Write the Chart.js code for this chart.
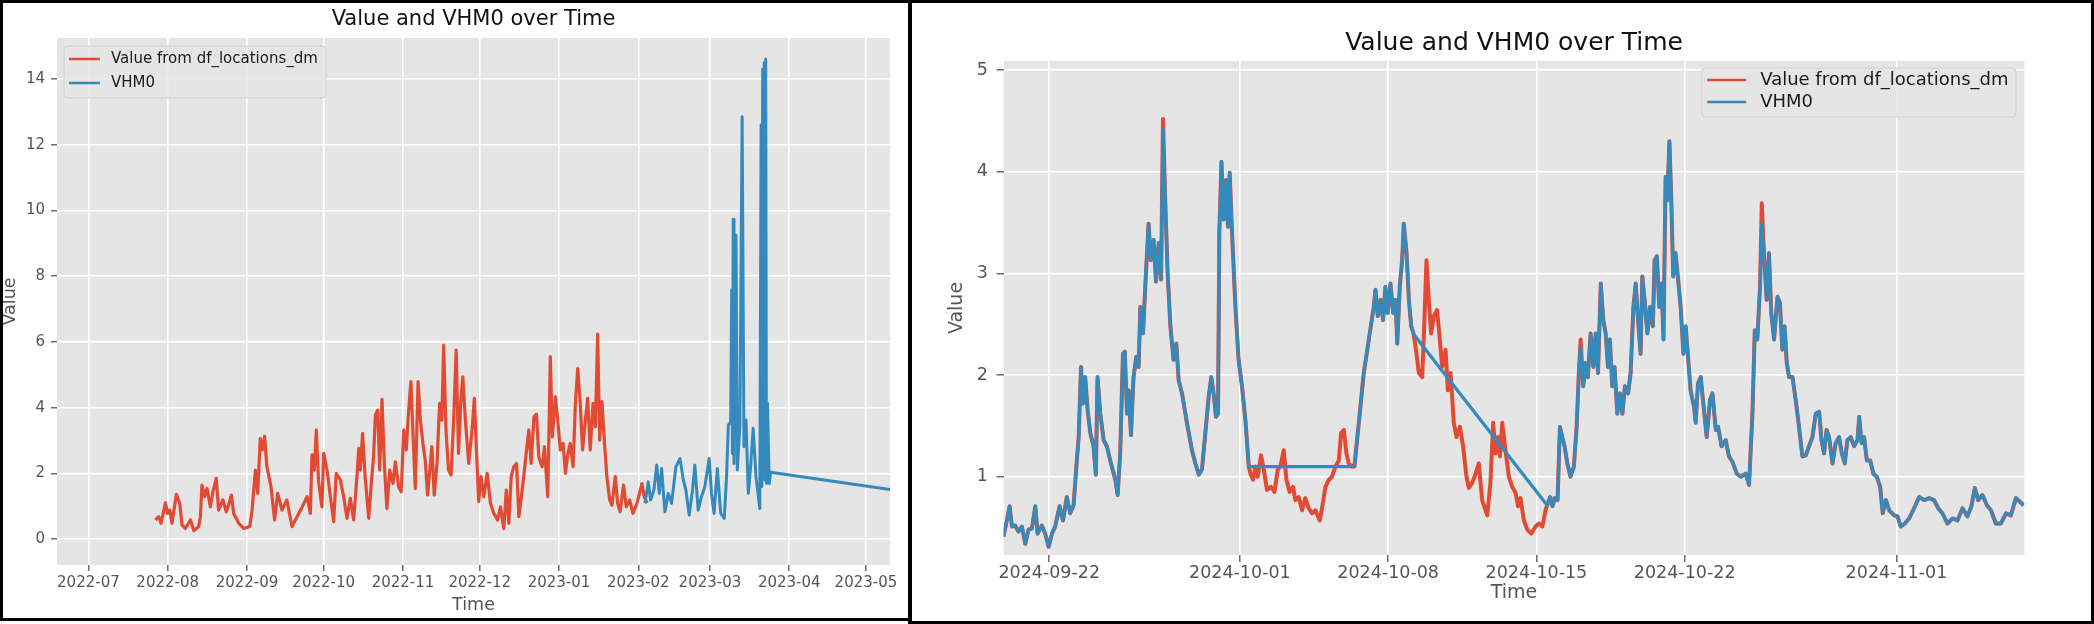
<!DOCTYPE html>
<html><head><meta charset="utf-8">
<script src="https://cdn.jsdelivr.net/npm/chart.js@4.4.1/dist/chart.umd.min.js"></script>
<style>
html,body{margin:0;padding:0;background:#fff;width:2094px;height:624px;overflow:hidden;}
#left{position:absolute;left:0;top:0;width:909px;height:620px;}
#right{position:absolute;left:911px;top:0;width:1183px;height:624px;}
.frame{position:absolute;border:3px solid #000;box-sizing:border-box;pointer-events:none;}
</style></head>
<body>
<div id="left"><canvas id="c1"></canvas></div>
<div id="right"><canvas id="c2"></canvas></div>
<div class="frame" style="left:0;top:0;width:912px;height:621px;"></div>
<div class="frame" style="left:908px;top:0;width:1186px;height:624px;"></div>
<script>
// ---------------- DATA ----------------
const chartTitle = 'Value and VHM0 over Time';
const seriesNames = ['Value from df_locations_dm', 'VHM0'];

// Left chart: x = days since leftEpoch
const leftEpoch = '2022-07-01';
const leftXTickLabels = ['2022-07','2022-08','2022-09','2022-10','2022-11','2022-12','2023-01','2023-02','2023-03','2023-04','2023-05'];
const leftYTicks = [0,2,4,6,8,10,12,14];
const leftValueSeries = [
[26.2,0.58],[27.5,0.68],[28.4,0.48],[30.1,1.1],[31.0,0.78],[31.8,0.88],[32.7,0.48],[34.4,1.36],[35.7,1.09],[36.6,0.43],
[37.9,0.32],[39.9,0.58],[41.2,0.25],[43.1,0.38],[43.8,0.68],[44.4,1.64],[45.5,1.29],[46.4,1.54],[47.7,0.98],[48.7,1.44],
[50.0,1.85],[50.9,0.88],[52.6,1.19],[53.9,0.83],[54.8,1.03],[55.9,1.34],[56.8,0.78],[58.8,0.48],[60.7,0.32],[63.1,0.38],
[64.0,0.88],[65.3,2.1],[66.2,1.39],[67.2,3.06],[68.0,2.71],[68.9,3.13],[69.8,2.2],[71.4,1.59],[72.8,0.58],[74.0,1.39],
[75.7,0.88],[77.6,1.19],[79.6,0.38],[81.6,0.68],[83.6,0.98],[85.5,1.29],[86.8,0.78],[87.4,2.56],[88.3,2.1],[89.1,3.32],
[90.0,1.74],[91.3,0.98],[92.0,2.61],[93.5,2.0],[94.6,1.29],[95.9,0.53],[96.9,2.0],[98.5,1.8],[99.8,1.29],[101.1,0.63],
[102.4,1.24],[103.7,0.58],[105.0,1.9],[105.7,2.76],[106.3,2.1],[107.2,3.22],[108.2,1.9],[109.6,0.63],[110.6,1.69],[111.5,2.5],
[112.2,3.77],[113.1,3.92],[113.9,2.1],[114.8,4.25],[115.7,2.3],[116.7,0.93],[117.8,2.1],[119.1,1.69],[120.0,2.35],[121.3,1.59],
[122.3,1.44],[123.3,3.32],[124.3,2.71],[125.2,3.92],[126.1,4.79],[126.9,3.22],[127.8,1.54],[128.9,4.79],[129.8,3.62],[130.8,2.91],
[131.7,2.4],[132.6,1.34],[133.6,2.2],[134.3,2.81],[135.2,1.34],[136.3,2.3],[137.3,4.13],[138.2,3.62],[138.9,5.9],[139.8,3.32],
[140.8,2.1],[141.8,1.95],[142.8,3.62],[143.8,5.75],[144.7,2.61],[145.7,4.33],[146.4,4.94],[147.4,3.62],[148.7,2.3],[150.0,3.32],
[150.9,4.28],[151.7,2.71],[152.6,1.14],[153.5,1.9],[154.6,1.29],[155.9,2.0],[157.2,1.09],[158.5,0.78],[160.0,0.58],[161.1,0.98],
[162.4,0.32],[163.4,1.49],[164.4,0.48],[165.3,1.9],[166.3,2.2],[167.4,2.3],[168.3,0.68],[169.3,1.29],[170.2,1.9],[171.3,2.71],
[172.2,3.32],[173.1,2.3],[174.2,3.72],[175.2,3.8],[176.1,2.5],[177.4,2.2],[178.3,2.81],[179.6,1.29],[180.6,5.55],[181.4,3.11],
[182.6,4.33],[183.5,3.62],[184.5,2.71],[185.6,2.91],[186.5,2.0],[187.5,2.61],[188.4,2.91],[189.5,2.2],[190.4,4.13],[191.3,5.19],
[192.3,4.13],[193.2,2.71],[194.3,3.62],[195.2,4.28],[196.2,2.71],[197.3,4.13],[198.2,3.42],[199.1,6.24],[199.9,3.01],[200.8,4.18],
[201.7,3.01],[202.7,1.9],[203.8,1.19],[204.7,1.03],[206.0,1.9],[206.9,1.09],[207.9,0.83],[209.2,1.64],[210.3,0.98],[211.6,1.19],
[212.9,0.78],[214.5,1.09],[216.4,1.69],[217.3,1.29],[218.4,1.09]
];
const leftVhm0Series = [
[217.6,1.09],[218.9,1.74],[219.8,1.19],[221.1,1.49],[222.2,2.25],[223.2,1.39],[224.1,2.15],[225.4,0.83],[226.7,1.39],[228.0,1.09],
[229.7,2.2],[231.3,2.45],[232.6,1.8],[233.6,1.49],[234.9,0.73],[236.2,1.49],[237.1,2.25],[238.4,0.88],[239.7,1.29],[241.0,1.59],
[242.7,2.45],[243.6,1.39],[244.6,0.78],[245.9,2.15],[247.2,0.78],[248.6,0.63],[249.5,1.9],[250.2,3.47],[251.1,3.57],[251.5,7.58],
[251.8,2.6],[252.1,9.73],[252.4,2.3],[252.8,8.9],[253.2,9.25],[253.7,2.1],[254.7,3.42],[255.6,12.85],[256.3,2.81],[257.1,3.62],
[258.0,1.39],[258.9,2.2],[259.9,3.37],[261.0,1.9],[262.5,0.93],[263.0,12.6],[263.3,1.6],[263.6,14.3],[263.9,2.0],[264.2,14.5],
[264.5,1.8],[264.8,14.6],[265.1,1.69],[265.5,4.13],[266.2,1.69],[266.7,2.03],[313.4,1.51]
];

// Right chart: x = days since rightEpoch
const rightEpoch = '2024-09-22';
const rightXTickLabels = ['2024-09-22','2024-10-01','2024-10-08','2024-10-15','2024-10-22','2024-11-01'];
const rightYTicks = [1,2,3,4,5];
// stretches where both series coincide
const rightSharedA = [
[-2.16,0.41],[-2.0,0.57],[-1.87,0.71],[-1.76,0.51],[-1.61,0.52],[-1.45,0.46],[-1.29,0.51],[-1.13,0.34],[-0.98,0.48],[-0.82,0.49],
[-0.66,0.71],[-0.55,0.44],[-0.35,0.52],[-0.19,0.44],[-0.03,0.31],[0.13,0.44],[0.28,0.51],[0.49,0.71],[0.65,0.57],[0.83,0.80],
[0.99,0.64],[1.15,0.72],[1.28,1.10],[1.39,1.39],[1.50,2.08],[1.59,1.72],[1.70,1.98],[1.81,1.66],[1.94,1.43],[2.09,1.30],
[2.20,1.02],[2.28,1.98],[2.41,1.62],[2.57,1.36],[2.72,1.30],[2.88,1.16],[3.12,0.97],[3.23,0.82],[3.35,1.23],[3.48,2.21],
[3.57,2.23],[3.67,1.62],[3.75,1.85],[3.86,1.41],[3.98,1.98],[4.11,2.18],[4.22,2.08],[4.30,2.67],[4.43,2.41],[4.54,2.90],
[4.69,3.49],[4.80,3.13],[4.93,3.33],[5.04,2.92],[5.17,3.30],[5.28,2.94],[5.37,4.42],[5.48,3.69],[5.59,3.00],[5.72,2.48],
[5.87,2.15],[6.00,2.31],[6.11,1.95],[6.27,1.82],[6.50,1.53],[6.74,1.26],[6.90,1.13],[7.06,1.02],[7.21,1.07],[7.37,1.43],
[7.53,1.79],[7.65,1.98],[7.76,1.82],[7.87,1.59],[7.97,1.62],[8.03,3.40],[8.13,4.10],[8.24,3.53],[8.35,3.92],[8.44,3.46],
[8.52,3.99],[8.63,3.40],[8.79,2.67],[8.94,2.15],[9.10,1.89],[9.26,1.56],[9.42,1.10]
];
const rightSharedB = [
[14.41,1.10],[14.85,2.02],[15.32,2.67],[15.40,2.84],[15.51,2.58],[15.64,2.74],[15.76,2.54],[15.87,2.87],[15.98,2.61],[16.11,2.90],
[16.24,2.61],[16.35,2.74],[16.43,2.31],[16.55,2.87],[16.66,3.13],[16.74,3.49],[16.87,3.20],[16.98,2.74],[17.09,2.48],[17.21,2.40]
];
const rightSharedC = [
[23.51,0.72],[23.65,0.80],[23.76,0.71],[23.87,0.79],[24.0,0.77],[24.11,1.49],[24.22,1.39],[24.33,1.30],[24.46,1.13],[24.61,1.00],
[24.77,1.10],[24.90,1.49],[25.01,2.05],[25.09,2.28],[25.21,1.89],[25.32,2.12],[25.43,1.98],[25.56,2.41],[25.69,2.08],[25.80,2.41],
[25.91,2.02],[26.04,2.90],[26.16,2.54],[26.27,2.41],[26.38,2.08],[26.47,2.35],[26.58,1.89],[26.69,2.08],[26.82,1.62],[26.95,1.82],
[27.06,1.62],[27.18,1.89],[27.33,1.82],[27.45,2.02],[27.58,2.67],[27.69,2.90],[27.80,2.54],[27.92,2.21],[28.0,2.97],[28.11,2.74],
[28.24,2.41],[28.36,2.67],[28.50,2.48],[28.58,3.13],[28.69,3.17],[28.80,2.67],[28.91,2.90],[29.00,2.35],[29.10,3.95],[29.18,3.72],
[29.28,4.30],[29.37,3.72],[29.46,2.97],[29.57,3.20],[29.69,2.94],[29.81,2.67],[29.94,2.21],[30.05,2.48],[30.16,2.18],[30.28,1.85],
[30.44,1.69],[30.52,1.53],[30.63,1.92],[30.76,1.98],[30.88,1.72],[31.04,1.39],[31.20,1.76],[31.31,1.82],[31.47,1.46],[31.58,1.49],
[31.74,1.30],[31.94,1.36],[32.09,1.20],[32.25,1.15],[32.46,1.03],[32.65,1.00],[32.88,1.03],[33.04,0.92],[33.20,1.62],[33.31,2.44],
[33.43,2.35],[33.56,2.87],[33.64,3.49],[33.75,3.17],[33.87,2.74],[33.98,3.20],[34.09,2.61],[34.22,2.35],[34.38,2.77],[34.50,2.71],
[34.61,2.25],[34.72,2.48],[34.82,2.12],[34.93,1.98],[35.09,1.98],[35.24,1.76],[35.40,1.49],[35.56,1.20],[35.72,1.21],[35.87,1.30],
[36.03,1.39],[36.19,1.62],[36.35,1.64],[36.46,1.36],[36.58,1.23],[36.70,1.46],[36.82,1.39],[36.98,1.13],[37.13,1.33],[37.29,1.39],
[37.42,1.23],[37.56,1.13],[37.68,1.36],[37.84,1.39],[38.0,1.30],[38.16,1.36],[38.24,1.59],[38.35,1.33],[38.47,1.39],[38.60,1.16],
[38.76,1.16],[38.91,1.03],[39.07,1.00],[39.23,0.90],[39.35,0.64],[39.50,0.77],[39.66,0.67],[39.89,0.62],[40.05,0.61],[40.20,0.51],
[40.39,0.54],[40.60,0.59],[40.83,0.69],[41.07,0.80],[41.31,0.77],[41.54,0.79],[41.78,0.77],[41.97,0.69],[42.17,0.64],[42.41,0.54],
[42.65,0.59],[42.88,0.57],[43.12,0.69],[43.35,0.61],[43.54,0.71],[43.70,0.89],[43.86,0.77],[44.06,0.82],[44.27,0.72],[44.46,0.67],
[44.69,0.54],[44.93,0.54],[45.17,0.64],[45.40,0.62],[45.64,0.79],[46.0,0.72]
];
// stretches where only the red series has readings
const rightValueOnly1 = [
[9.50,1.03],[9.62,0.97],[9.73,1.10],[9.84,1.00],[10.0,1.21],[10.13,1.07],[10.28,0.87],[10.47,0.90],[10.63,0.85],[10.79,1.07],
[10.91,1.10],[11.07,1.26],[11.20,0.97],[11.35,0.85],[11.51,0.90],[11.62,0.77],[11.78,0.80],[11.94,0.67],[12.09,0.79],[12.25,0.69],
[12.41,0.64],[12.57,0.67],[12.77,0.57],[12.88,0.69],[13.04,0.90],[13.20,0.97],[13.35,1.00],[13.51,1.10],[13.67,1.16],[13.78,1.43],
[13.91,1.46],[14.03,1.23],[14.14,1.13],[14.30,1.10]
];
const rightValueOnly2 = [
[17.34,2.21],[17.45,2.02],[17.61,1.98],[17.72,2.58],[17.81,3.13],[17.92,2.74],[18.03,2.41],[18.16,2.58],[18.31,2.64],[18.44,2.35],
[18.55,2.08],[18.71,2.25],[18.82,1.85],[18.95,2.02],[19.10,1.53],[19.23,1.39],[19.39,1.49],[19.54,1.30],[19.70,1.00],[19.81,0.89],
[19.97,0.94],[20.13,1.03],[20.28,1.13],[20.44,0.77],[20.68,0.62],[20.83,0.94],[20.96,1.53],[21.07,1.23],[21.18,1.39],[21.28,1.20],
[21.39,1.53],[21.54,1.26],[21.70,1.00],[21.86,0.90],[22.02,0.84],[22.13,0.71],[22.25,0.79],[22.41,0.57],[22.57,0.48],[22.76,0.44],
[22.96,0.51],[23.12,0.54],[23.28,0.51],[23.43,0.67]
];
// red peaks that poke out above the blue line
const rightValuePeaks = [[5.37,4.52],[33.64,3.69],[25.09,2.35]];

// ---------------- BUILD ----------------
const RED = '#E24A33', BLUE = '#348ABD';
const FAMILY = '"DejaVu Sans", sans-serif';

function dayOf(label, epoch) {
  const p = label.split('-').map(Number), e = epoch.split('-').map(Number);
  return (Date.UTC(p[0], p[1]-1, p[2]||1) - Date.UTC(e[0], e[1]-1, e[2]||1)) / 86400000;
}
const toPts = arr => arr.map(([x, y]) => ({x, y}));

const redRight = [...rightSharedA, ...rightValueOnly1, ...rightSharedB, ...rightValueOnly2, ...rightSharedC]
  .map(([x, y]) => { const pk = rightValuePeaks.find(p => p[0] === x); return [x, pk ? pk[1] : y]; });
const blueRight = [...rightSharedA, ...rightSharedB, ...rightSharedC];

const decor = {
  id: 'decor',
  beforeDraw(chart) {
    const a = chart.chartArea, ctx = chart.ctx;
    ctx.save(); ctx.fillStyle = '#E5E5E5';
    ctx.fillRect(a.left, a.top, a.right - a.left, a.bottom - a.top);
    ctx.restore();
  },
  afterDraw(chart, args, o) {
    const a = chart.chartArea, ctx = chart.ctx;
    ctx.save();
    ctx.font = o.titleSize + 'px ' + FAMILY;
    ctx.fillStyle = '#111'; ctx.textAlign = 'center'; ctx.textBaseline = 'middle';
    ctx.fillText(o.title, (a.left + a.right) / 2, a.top - o.titleGap);
    const L = o.legend;
    ctx.font = L.size + 'px ' + FAMILY;
    const ds = chart.data.datasets;
    const tw = Math.max(...ds.map(d => ctx.measureText(d.label).width));
    const w = L.textX + tw + L.padR;
    const x0 = L.side === 'left' ? a.left + L.dx : a.right - L.dx - w;
    const y0 = a.top + L.dy;
    const r = 4;
    ctx.beginPath();
    ctx.moveTo(x0 + r, y0); ctx.lineTo(x0 + w - r, y0); ctx.quadraticCurveTo(x0 + w, y0, x0 + w, y0 + r);
    ctx.lineTo(x0 + w, y0 + L.h - r); ctx.quadraticCurveTo(x0 + w, y0 + L.h, x0 + w - r, y0 + L.h);
    ctx.lineTo(x0 + r, y0 + L.h); ctx.quadraticCurveTo(x0, y0 + L.h, x0, y0 + L.h - r);
    ctx.lineTo(x0, y0 + r); ctx.quadraticCurveTo(x0, y0, x0 + r, y0); ctx.closePath();
    ctx.fillStyle = 'rgba(229,229,229,0.85)'; ctx.fill();
    ctx.strokeStyle = '#d0d0d0'; ctx.lineWidth = 1; ctx.stroke();
    ds.forEach((d, i) => {
      const y = y0 + L.rows[i];
      ctx.strokeStyle = d.borderColor; ctx.lineWidth = 2.5; ctx.lineCap = 'butt';
      ctx.beginPath(); ctx.moveTo(x0 + L.lineX0, y); ctx.lineTo(x0 + L.lineX1, y); ctx.stroke();
      ctx.fillStyle = '#1a1a1a'; ctx.textAlign = 'left'; ctx.textBaseline = 'middle';
      ctx.fillText(d.label, x0 + L.textX, y + 0.5);
    });
    ctx.restore();
  }
};

function makeChart(id, cfg) {
  const xTickVals = cfg.xLabels.map(l => dayOf(l, cfg.epoch));
  return new Chart(document.getElementById(id), {
    type: 'line',
    data: {
      datasets: [
        {label: seriesNames[0], data: toPts(cfg.red), borderColor: RED, backgroundColor: RED,
         borderWidth: cfg.lwRed, pointRadius: 0, tension: 0, order: 1, borderJoinStyle: 'round'},
        {label: seriesNames[1], data: toPts(cfg.blue), borderColor: BLUE, backgroundColor: BLUE,
         borderWidth: cfg.lwBlue, pointRadius: 0, tension: 0, order: 0, borderJoinStyle: 'round'}
      ]
    },
    options: {
      responsive: true, maintainAspectRatio: false, animation: false, parsing: false, events: [],
      layout: {padding: cfg.padding},
      plugins: {legend: {display: false}, title: {display: false}, tooltip: {enabled: false}, decor: cfg.decor},
      scales: {
        x: {
          type: 'linear', min: cfg.xMin, max: cfg.xMax,
          afterBuildTicks: s => { s.ticks = xTickVals.map(v => ({value: v})); },
          afterFit: s => { s.height = cfg.xAxisH; },
          ticks: {autoSkip: false, maxRotation: 0, minRotation: 0, color: '#555555', padding: cfg.xTickPad,
                  font: {family: FAMILY, size: cfg.tickSize}, callback: (v, i) => cfg.xLabels[i]},
          grid: {color: '#ffffff', lineWidth: 1.6, tickColor: '#555555', tickLength: cfg.tickLen, tickWidth: 1.3},
          border: {display: false},
          title: {display: true, text: 'Time', color: '#555555', font: {family: FAMILY, size: cfg.labelSize},
                  padding: {top: 0, bottom: cfg.xTitlePad}}
        },
        y: {
          type: 'linear', min: cfg.yMin, max: cfg.yMax,
          afterBuildTicks: s => { s.ticks = cfg.yTicks.map(v => ({value: v})); },
          afterFit: s => { s.width = cfg.yAxisW; },
          ticks: {color: '#555555', padding: cfg.yTickPad, font: {family: FAMILY, size: cfg.tickSize},
                  callback: v => String(v)},
          grid: {color: '#ffffff', lineWidth: 1.6, tickColor: '#555555', tickLength: cfg.tickLen, tickWidth: 1.3},
          border: {display: false},
          title: {display: true, text: 'Value', color: '#555555', font: {family: FAMILY, size: cfg.labelSize},
                  padding: {top: cfg.yTitlePad, bottom: 0}}
        }
      }
    },
    plugins: [decor]
  });
}

makeChart('c1', {
  epoch: leftEpoch, xLabels: leftXTickLabels, yTicks: leftYTicks,
  red: leftValueSeries, blue: leftVhm0Series, lwRed: 3.2, lwBlue: 3.0,
  xMin: -12.27, xMax: 313.4, yMin: -0.79, yMax: 15.25,
  padding: {top: 38, right: 19, left: 0, bottom: 0},
  xAxisH: 55, yAxisW: 57, tickLen: 6, xTickPad: 3, yTickPad: 6,
  tickSize: 15, labelSize: 17.5, xTitlePad: 4.5, yTitlePad: 0,
  decor: {title: chartTitle, titleSize: 21, titleGap: 18,
          legend: {side: 'left', dx: 7, dy: 8, h: 52, rows: [13, 37], lineX0: 5, lineX1: 36, textX: 47, padR: 8, size: 15}}
});

makeChart('c2', {
  epoch: rightEpoch, xLabels: rightXTickLabels, yTicks: rightYTicks,
  red: redRight, blue: blueRight, lwRed: 4.0, lwBlue: 3.3,
  xMin: -2.15, xMax: 46.04, yMin: 0.23, yMax: 5.09,
  padding: {top: 61, right: 69.6, left: 0, bottom: 0},
  xAxisH: 69, yAxisW: 92.7, tickLen: 7, xTickPad: 1, yTickPad: 8.7,
  tickSize: 17.5, labelSize: 19, xTitlePad: 19.6, yTitlePad: 34.6,
  decor: {title: chartTitle, titleSize: 25, titleGap: 18,
          legend: {side: 'right', dx: 8.4, dy: 7, h: 49, rows: [12, 34], lineX0: 5.5, lineX1: 44.5, textX: 58.5, padR: 7.5, size: 18}}
});
</script>
</body></html>
